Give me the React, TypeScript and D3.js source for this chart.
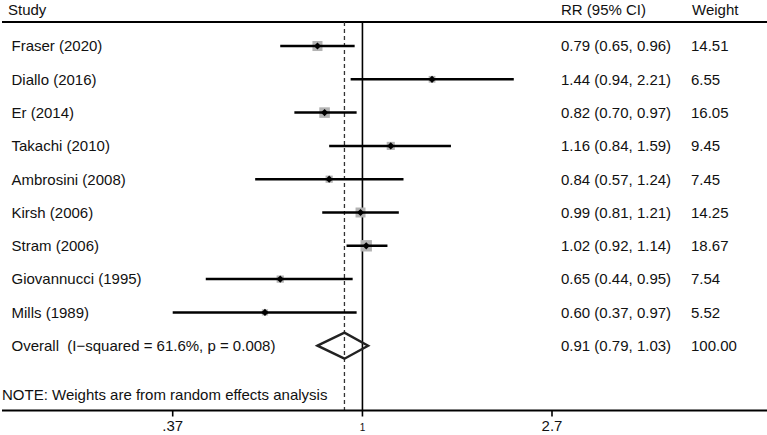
import React from "react";
import * as d3 from "d3";

const studies = [
  "Fraser (2020)",
  "Diallo (2016)",
  "Er (2014)",
  "Takachi (2010)",
  "Ambrosini (2008)",
  "Kirsh (2006)",
  "Stram (2006)",
  "Giovannucci (1995)",
  "Mills (1989)",
];
const rr = [0.79, 1.44, 0.82, 1.16, 0.84, 0.99, 1.02, 0.65, 0.6];
const lower = [0.65, 0.94, 0.7, 0.84, 0.57, 0.81, 0.92, 0.44, 0.37];
const upper = [0.96, 2.21, 0.97, 1.59, 1.24, 1.21, 1.14, 0.95, 0.97];
const weights = ["14.51", "6.55", "16.05", "9.45", "7.45", "14.25", "18.67", "7.54", "5.52"];

const overallLabel = "Overall  (I\u2212squared = 61.6%, p = 0.008)";
const overallRR = [0.91];
const overallLower = [0.79];
const overallUpper = [1.03];
const overallWeight = "100.00";

const tickValues = [0.37, 1, 2.7];
const tickLabels = [".37", "1", "2.7"];

const W = 767;
const H = 435;
const FONT = "'Liberation Sans', Arial, sans-serif";

export default function App() {
  const x = d3.scaleLog().domain([0.37, 2.7]).range([172.7, 552]);
  const y = d3.scaleLinear().domain([0, studies.length]).range([46, 345.7]);
  const boxSize = d3.scaleSqrt().domain([0, 18.67]).range([0, 11.4]);

  const headerY = 22;
  const axisY = 410.5;
  const colRR = 561;
  const colW = 691;
  const fs = 15;
  const labelX = 11.5;

  const diamond = (cx: number, cy: number, r: number) =>
    `M${cx - r},${cy} L${cx},${cy - r} L${cx + r},${cy} L${cx},${cy + r} Z`;

  const oy = y(studies.length);
  const ox = x(overallRR[0]);
  const ol = x(overallLower[0]);
  const ou = x(overallUpper[0]);

  return (
    <svg
      width={W}
      height={H}
      style={{ position: "absolute", left: 0, top: 0, background: "#fff" }}
      fontFamily={FONT}
    >
      <rect x={0} y={0} width={W} height={H} fill="#fff" />
      {/* header */}
      <text x={8} y={15} fontSize={fs} fill="#111">Study</text>
      <text x={colRR} y={15} fontSize={fs} fill="#111">RR (95% CI)</text>
      <text x={colW + 1} y={15} fontSize={fs} fill="#111">Weight</text>
      <line x1={2} x2={W} y1={headerY} y2={headerY} stroke="#000" strokeWidth={2} />

      {/* reference lines */}
      <line x1={x(1)} x2={x(1)} y1={headerY} y2={axisY} stroke="#000" strokeWidth={1.6} />
      <line
        x1={ox}
        x2={ox}
        y1={headerY}
        y2={axisY}
        stroke="#333"
        strokeWidth={1.3}
        strokeDasharray="4,3"
      />

      {/* studies */}
      {studies.map((s, i) => {
        const cy = y(i);
        const bs = boxSize(parseFloat(weights[i]));
        return (
          <g key={s}>
            <text x={labelX} y={cy + 5.3} fontSize={fs} fill="#111">{s}</text>
            <rect
              x={x(rr[i]) - bs / 2}
              y={cy - bs / 2}
              width={bs}
              height={bs}
              fill="#b3b3b3"
            />
            <line
              x1={x(lower[i])}
              x2={x(upper[i])}
              y1={cy}
              y2={cy}
              stroke="#000"
              strokeWidth={2.5}
            />
            <path d={diamond(x(rr[i]), cy, 3.6)} fill="#000" />
            <text x={colRR} y={cy + 5.3} fontSize={fs} fill="#111">
              {`${rr[i].toFixed(2)} (${lower[i].toFixed(2)}, ${upper[i].toFixed(2)})`}
            </text>
            <text x={colW} y={cy + 5.3} fontSize={fs} fill="#111">{weights[i]}</text>
          </g>
        );
      })}

      {/* overall */}
      <text x={labelX} y={oy + 5.3} fontSize={fs} fill="#111" style={{ whiteSpace: "pre" }}>
        {overallLabel}
      </text>
      <path
        d={`M${ol},${oy} L${ox},${oy - 13} L${ou},${oy} L${ox},${oy + 13} Z`}
        fill="none"
        stroke="#222"
        strokeWidth={2.4}
        strokeLinejoin="miter"
      />
      <text x={colRR} y={oy + 5.3} fontSize={fs} fill="#111">
        {`${overallRR[0].toFixed(2)} (${overallLower[0].toFixed(2)}, ${overallUpper[0].toFixed(2)})`}
      </text>
      <text x={colW} y={oy + 5.3} fontSize={fs} fill="#111">{overallWeight}</text>

      {/* note */}
      <text x={2} y={400} fontSize={fs} fill="#111">NOTE: Weights are from random effects analysis</text>

      {/* axis */}
      <line x1={2} x2={W} y1={axisY} y2={axisY} stroke="#000" strokeWidth={2} />
      {tickValues.map((t, i) => (
        <g key={t}>
          <line x1={x(t)} x2={x(t)} y1={axisY} y2={axisY + 6} stroke="#000" strokeWidth={1.6} />
          <text
            x={x(t)}
            y={431}
            fontSize={t === 1 ? 10 : fs}
            textAnchor="middle"
            fill="#111"
          >
            {tickLabels[i]}
          </text>
        </g>
      ))}
    </svg>
  );
}
